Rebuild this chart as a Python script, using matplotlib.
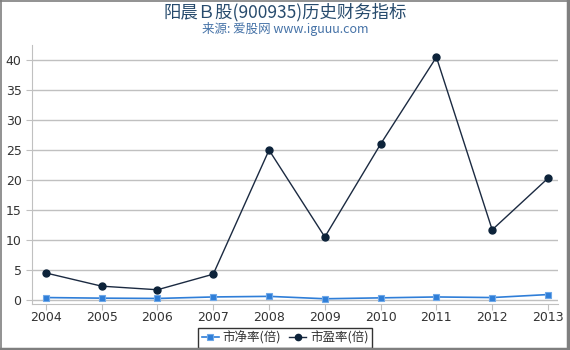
import matplotlib
matplotlib.use("Agg")
import matplotlib.pyplot as plt
from matplotlib.lines import Line2D

plt.rcParams['font.family'] = ['DejaVu Sans', 'Noto Sans CJK SC']

years = [2004, 2005, 2006, 2007, 2008, 2009, 2010, 2011, 2012, 2013]
pb = [0.4, 0.3, 0.25, 0.5, 0.6, 0.2, 0.35, 0.5, 0.4, 0.9]
pe = [4.5, 2.3, 1.7, 4.3, 25.0, 10.5, 26.0, 40.5, 11.7, 20.3]
yticks = [0, 5, 10, 15, 20, 25, 30, 35, 40]

fig = plt.figure(figsize=(5.7, 3.5), dpi=100)
ax = fig.add_axes([0.056, 0.131, 0.923, 0.74])

for t in yticks:
    ax.axhline(t, color='#c0c0c0', lw=1, zorder=0)

ax.plot(years, pb, color='#2f7ed8', lw=1.2, marker='s', ms=5,
        markerfacecolor='#2f7ed8', markeredgecolor='#6fa8e8', mew=0.8,
        label='市净率(倍)', zorder=3)
ax.plot(years, pe, color='#1b2a41', lw=1, marker='o', ms=5,
        markerfacecolor='#0d233a', markeredgecolor='#0d233a',
        label='市盈率(倍)', zorder=3)

ax.set_xlim(2003.75, 2013.18)
ax.set_ylim(-0.7, 42.5)
ax.set_xticks(years)
ax.set_yticks(yticks)
ax.tick_params(axis='both', colors='#c0c0c0', labelcolor='#333333',
               labelsize=9, length=4)
ax.tick_params(axis='x', pad=1)
for s in ['top', 'right']:
    ax.spines[s].set_visible(False)
for s in ['left', 'bottom']:
    ax.spines[s].set_color('#c0c0c0')

fig.text(0.5, 0.965, '阳晨Ｂ股(900935)历史财务指标', ha='center', va='center',
         fontsize=12.5, color='#274b6d',
         family=['Noto Sans CJK SC', 'DejaVu Sans'])
fig.text(0.5, 0.918, '来源: 爱股网 www.iguuu.com', ha='center', va='center',
         fontsize=9, color='#4572a7',
         family=['Noto Sans CJK SC', 'DejaVu Sans'])

leg = ax.legend(loc='lower center', bbox_to_anchor=(0.5, 0.006),
                bbox_transform=fig.transFigure, ncol=2, frameon=True,
                handlelength=1.4, handletextpad=0.3, markerscale=0.9,
                columnspacing=0.6, borderpad=0.25, borderaxespad=0, fancybox=False,
                prop={'family': ['Noto Sans CJK SC', 'DejaVu Sans'], 'size': 9})
leg.get_frame().set_edgecolor('#000000')
leg.get_frame().set_linewidth(1)
for txt in leg.get_texts():
    txt.set_color('#333333')

# figure border: thin top/left, thicker right/bottom
bc = '#7f7f7f'
fig.lines.append(Line2D([0, 1], [0.9985, 0.9985], transform=fig.transFigure, color=bc, lw=1.2))
fig.lines.append(Line2D([0.001, 0.001], [0, 1], transform=fig.transFigure, color=bc, lw=1.2))
fig.lines.append(Line2D([0.9965, 0.9965], [0, 1], transform=fig.transFigure, color=bc, lw=2.5))
fig.lines.append(Line2D([0, 1], [0.004, 0.004], transform=fig.transFigure, color=bc, lw=2.5))

fig.savefig('out.png', dpi=100)
